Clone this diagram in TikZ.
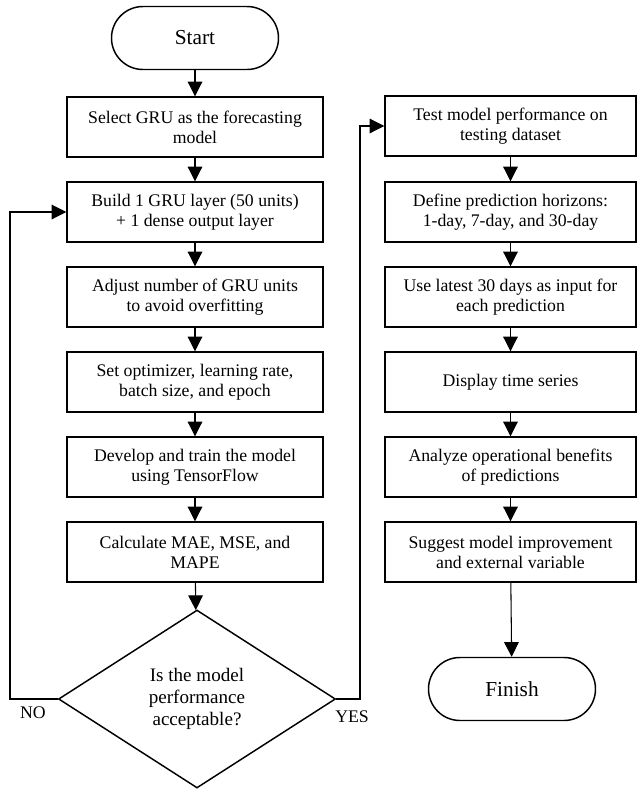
\documentclass[tikz,border=0pt]{standalone}
\usepackage{fontspec}
\setmainfont{Liberation Serif}
\usetikzlibrary{shapes.geometric,arrows.meta}

\begin{document}
\begin{tikzpicture}[x=0.75pt,y=-0.75pt,
    txt/.style={font=\fontsize{13.3pt}{15pt}\selectfont},
    box/.style={txt,draw,line width=1.1pt,align=center,inner sep=1pt,minimum width=192pt,minimum height=45pt},
    rbox/.style={box,minimum width=188.25pt},
    term/.style={draw,line width=1.1pt,font=\fontsize{16pt}{18pt}\selectfont,rounded corners=23.6pt,minimum width=125.25pt,minimum height=47.25pt},
    dec/.style={draw,line width=1.1pt,diamond,align=center,inner sep=0pt,font=\fontsize{14.3pt}{16.5pt}\selectfont,minimum width=207.75pt,minimum height=133.5pt},
    flow/.style={line width=0.8pt,-{Triangle[length=11pt,width=11pt]}}]
    \useasboundingbox (0,0) rectangle (638,790);
    % left column
    \node[term] (start) at (195,38) {Start};
    \node[box] (1) at (195,127) {Select GRU as the forecasting\\model};
    \node[box] (2) at (195,212) {Build 1 GRU layer (50 units)\\+ 1 dense output layer};
    \node[box] (3) at (195,297) {Adjust number of GRU units\\to avoid overfitting};
    \node[box] (4) at (195,382) {Set optimizer, learning rate,\\batch size, and epoch};
    \node[box] (5) at (195,467) {Develop and train the model\\using TensorFlow};
    \node[box] (6) at (195,552) {Calculate MAE, MSE, and\\MAPE};
    \node[dec] (d) at (197,699) {Is the model\\performance\\acceptable?};
    % right column
    \node[rbox] (7) at (510.5,126) {Test model performance on\\testing dataset};
    \node[rbox] (8) at (510.5,212) {Define prediction horizons:\\1-day, 7-day, and 30-day};
    \node[rbox] (9) at (510.5,297) {Use latest 30 days as input for\\each prediction};
    \node[rbox] (10) at (510.5,382) {Display time series};
    \node[rbox] (11) at (510.5,467) {Analyze operational benefits\\of predictions};
    \node[rbox] (12) at (510.5,552) {Suggest model improvement\\and external variable};
    \node[term] (fin) at (512,689) {Finish};
    % labels
    \node[txt] (no) at (33,713) {NO};
    \node[txt] (yes) at (352,717) {YES};
    \coordinate (nl) at (10,699);
    \coordinate (yr) at (360,699);

    \draw[flow] (start) to (1);
    \draw[flow] (1) to (2);
    \draw[flow] (2) to (3);
    \draw[flow] (3) to (4);
    \draw[flow] (4) to (5);
    \draw[flow] (5) to (6);
    \draw[flow] (6) to (d);
    \draw[flow] (d.west) -- (nl) |- (2.west);
    \draw[flow] (d.east) -- (yr) |- (7.west);
    \draw[flow] (7) to (8);
    \draw[flow] (8) to (9);
    \draw[flow] (9) to (10);
    \draw[flow] (10) to (11);
    \draw[flow] (11) to (12);
    \draw[flow] (12) to (fin);
\end{tikzpicture}
\end{document}
